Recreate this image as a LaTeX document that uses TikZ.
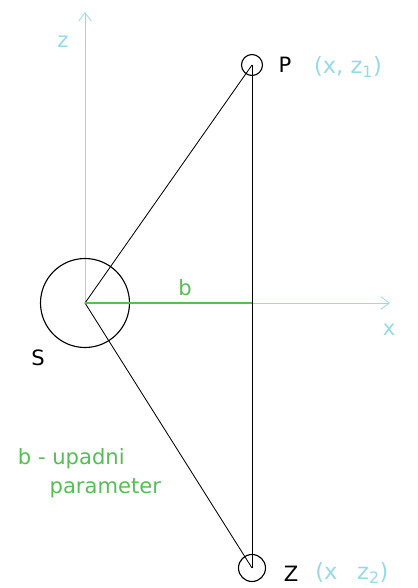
\documentclass[tikz,border=0pt]{standalone}
\usepackage{fontspec}
\setmainfont{DejaVu Sans}
\usepackage{tikz}
\usetikzlibrary{arrows.meta,positioning}

\definecolor{axiscol}{RGB}{150,218,230}
\definecolor{bgreen}{RGB}{85,190,85}

\begin{document}
\begin{tikzpicture}[x=0.025cm, y=-0.025cm, font=\fontsize{15}{17}\selectfont]

    \useasboundingbox (0,0) rectangle (417,588);

    % Axes
    \coordinate (O) at (85,303);
    \coordinate (xend) at (390,303);
    \coordinate (zend) at (85,12);
    \draw[axiscol, semithick, -{Straight Barb[length=6pt, width=9pt]}] (O) -- (xend);
    \draw[axiscol, semithick, -{Straight Barb[length=6pt, width=9pt]}] (O) -- (zend);
    \node[text=axiscol] (xlab) at (389,330) {x};
    \node[text=axiscol] (zlab) at (63,42) {z};

    % Bodies
    \node[draw, thick, circle, minimum size=89*0.025cm, inner sep=0pt] (S) at (O) {};
    \node[draw, thick, circle, minimum size=21*0.025cm, inner sep=0pt] (P) at (252,65) {};
    \node[draw, thick, circle, minimum size=27*0.025cm, inner sep=0pt] (Z) at (252,568) {};
    \coordinate (B) at (252,303);

    % Lines
    \draw[semithick] (S.center) -- (P.center);
    \draw[semithick] (S.center) -- (Z.center);
    \draw[semithick] (P.center) -- (Z.center);
    \draw[bgreen, thick] (S.center) -- (B);

    % Labels
    \node (Slab) at (38,358) {S};
    \node (Plab) at (285,65) {P};
    \node (Zlab) at (291,574) {Z};
    \node[text=axiscol, font=\fontsize{16}{18}\selectfont] (Pcoord) at (348,67) {(x, z\textsubscript{1})};
    \node[text=axiscol, font=\fontsize{16}{18}\selectfont] (Zcoord) at (352,573) {(x\;\; z\textsubscript{2})};
    \node[text=bgreen] (blab) at (185,288) {b};
    \node[text=bgreen, align=left, anchor=north west, font=\fontsize{15}{21}\selectfont] (note) at (13,443) {b - upadni\\\hspace{1.5em}parameter};

\end{tikzpicture}
\end{document}
